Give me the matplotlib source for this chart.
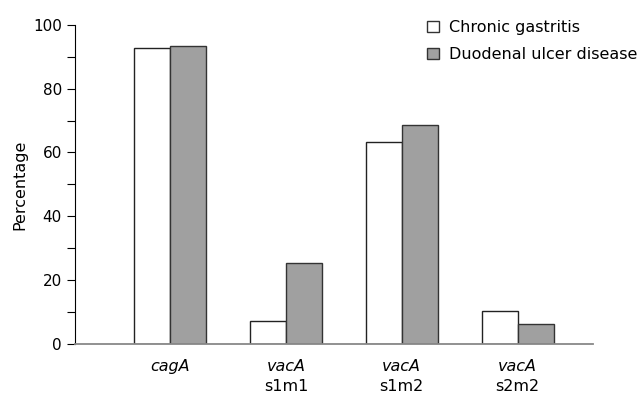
import numpy as np
import matplotlib.pyplot as plt
from matplotlib.patches import Patch
from matplotlib.ticker import MultipleLocator

genes = ['cagA', 'vacA', 'vacA', 'vacA']
subtypes = ['', 's1m1', 's1m2', 's2m2']
chronic = [92.7, 7.1, 63.3, 10.2]
duodenal = [93.5, 25.4, 68.7, 6.2]

plt.rcParams['font.family'] = ['DejaVu Sans']
fig = plt.figure(figsize=(6.41, 3.94), dpi=100)
ax = fig.add_axes([0.117, 0.127, 0.808, 0.81])

x = np.arange(len(genes))
w = 0.31
ax.bar(x - w/2, chronic, w, color='white', edgecolor='#222222', linewidth=1)
ax.bar(x + w/2, duodenal, w, color='#a0a0a0', edgecolor='#333333', linewidth=1)

ax.set_xlim(-0.82, 3.65)
ax.set_ylim(0, 100)
ax.yaxis.set_major_locator(MultipleLocator(20))
ax.yaxis.set_minor_locator(MultipleLocator(10))
ax.tick_params(axis='y', which='both', length=6, direction='out', labelsize=11, width=0.8)
ax.tick_params(axis='x', length=0)
ax.set_xticks(x)
ax.set_xticklabels([])
for i in range(len(genes)):
    ax.annotate(genes[i], (x[i], 0), xytext=(0, -11), textcoords='offset points',
                style='italic', ha='center', va='top', fontsize=11.5)
    if subtypes[i]:
        ax.annotate(subtypes[i], (x[i], 0), xytext=(0, -25.5), textcoords='offset points',
                    ha='center', va='top', fontsize=11.5)
ax.set_ylabel('Percentage', fontsize=11.5)

for s in ['top', 'right']:
    ax.spines[s].set_visible(False)
ax.spines['left'].set_color('black')
ax.spines['bottom'].set_color('#888888')
ax.spines['bottom'].set_linewidth(1.3)

handles = [Patch(facecolor='white', edgecolor='#333333', label='Chronic gastritis'),
           Patch(facecolor='#a0a0a0', edgecolor='#333333', label='Duodenal ulcer disease')]
ax.legend(handles=handles, loc='upper left', bbox_to_anchor=(0.652, 1.06), frameon=False,
          fontsize=11.5, handlelength=0.75, handleheight=0.75, handletextpad=0.6,
          labelspacing=0.75)

fig.savefig('out.png', dpi=100)
